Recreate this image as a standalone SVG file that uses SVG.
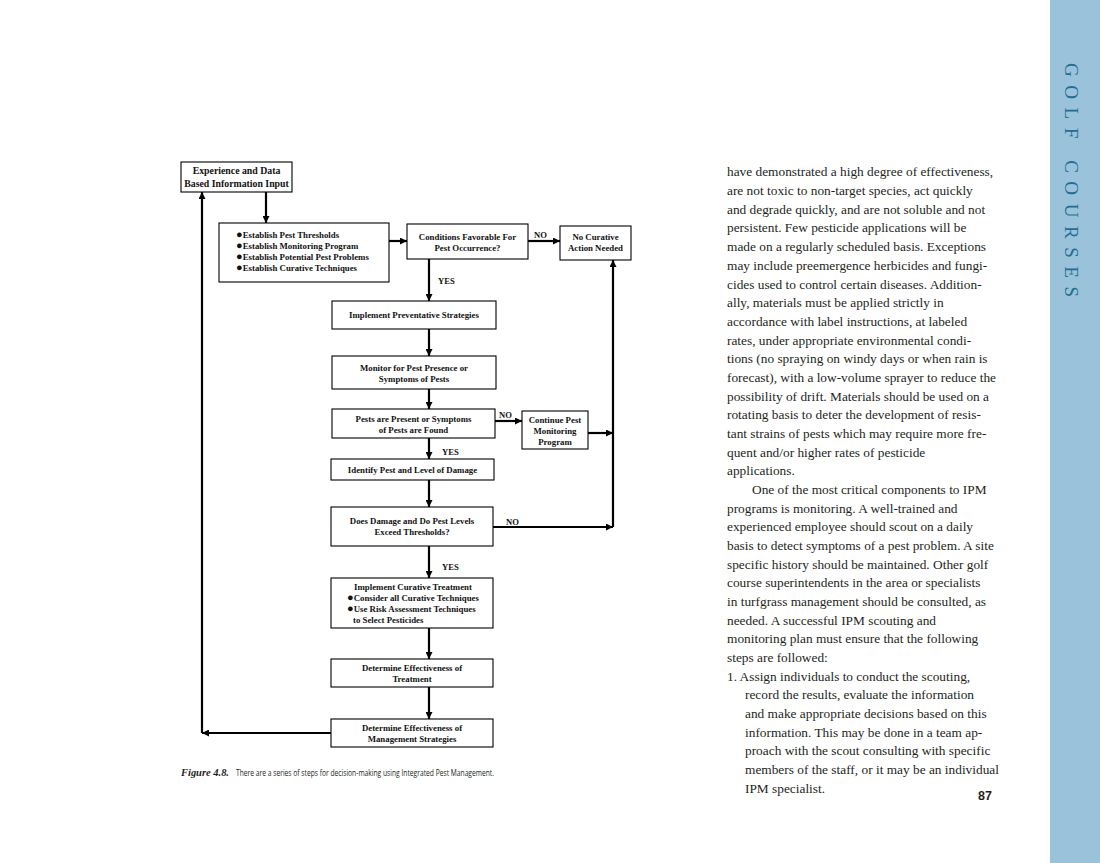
<svg xmlns="http://www.w3.org/2000/svg" width="1100" height="863" viewBox="0 0 1100 863">
<defs>
<marker id="ah" viewBox="0 0 8 8" markerUnits="userSpaceOnUse" markerWidth="7" markerHeight="7" refX="8" refY="4" orient="auto">
<path d="M0,0 L8,4 L0,8 z" fill="#000"/>
</marker>
</defs>
<style>
.box{fill:#fff;stroke:#000;stroke-width:1.1}
.t{font-family:"Liberation Serif","DejaVu Serif",serif;font-weight:bold;font-size:8.8px;fill:#111;text-anchor:middle}
.tl{text-anchor:start}
.big{font-size:9.8px}
.b{font-size:11px}
.lbl{font-family:"Liberation Serif","DejaVu Serif",serif;font-weight:bold;font-size:8.6px;fill:#111}
.c{stroke:#000;stroke-width:2.2;fill:none;marker-end:url(#ah)}
.body{font-family:"Liberation Serif","DejaVu Serif",serif;font-size:13.35px;fill:#231f20}
</style>
<rect width="1100" height="863" fill="#fff"/>
<rect x="1050" y="0" width="50" height="863" fill="#9ac3db"/>
<text transform="translate(1065,63) rotate(90)" font-family="Liberation Serif,DejaVu Serif,serif" font-size="19" fill="#1f6f93" textLength="234" lengthAdjust="spacing">GOLF COURSES</text>

<g id="connectors">
<line class="c" x1="266" y1="192" x2="266" y2="223"/>
<line class="c" x1="389" y1="241" x2="407" y2="241"/>
<line class="c" x1="528" y1="241" x2="560" y2="241"/>
<line class="c" x1="429" y1="259" x2="429" y2="301"/>
<line class="c" x1="429" y1="329" x2="429" y2="356"/>
<line class="c" x1="429" y1="389" x2="429" y2="409"/>
<line class="c" x1="495" y1="421" x2="522" y2="421"/>
<line class="c" x1="588" y1="433" x2="613" y2="433"/>
<line class="c" x1="429" y1="438" x2="429" y2="459"/>
<line class="c" x1="429" y1="480" x2="429" y2="507"/>
<line class="c" x1="493" y1="527" x2="613" y2="527"/>
<line class="c" x1="613" y1="527" x2="613" y2="260"/>
<line class="c" x1="429" y1="546" x2="429" y2="578"/>
<line class="c" x1="429" y1="628" x2="429" y2="659"/>
<line class="c" x1="429" y1="687" x2="429" y2="719"/>
<line class="c" x1="331" y1="733" x2="202" y2="733"/>
<line class="c" x1="202" y1="733" x2="202" y2="192"/>
<text class="lbl" x="534" y="238">NO</text>
<text class="lbl" x="438" y="284">YES</text>
<text class="lbl" x="499" y="418">NO</text>
<text class="lbl" x="442" y="455">YES</text>
<text class="lbl" x="506" y="525">NO</text>
<text class="lbl" x="442" y="570">YES</text>
</g>

<g id="n1">
<rect class="box" x="181" y="162" width="111" height="30"/>
<text class="t big" x="236.5" y="173.5">Experience and Data</text>
<text class="t big" x="236.5" y="186.5">Based Information Input</text>
</g>
<g id="n2">
<rect class="box" x="219" y="223" width="170" height="59"/>
<text class="t tl" x="236" y="238"><tspan class="b">●</tspan>Establish Pest Thresholds</text>
<text class="t tl" x="236" y="249"><tspan class="b">●</tspan>Establish Monitoring Program</text>
<text class="t tl" x="236" y="260"><tspan class="b">●</tspan>Establish Potential Pest Problems</text>
<text class="t tl" x="236" y="270.5"><tspan class="b">●</tspan>Establish Curative Techniques</text>
</g>
<g id="n3">
<rect class="box" x="407" y="224" width="121" height="35"/>
<text class="t" x="467.5" y="240">Conditions Favorable For</text>
<text class="t" x="467.5" y="251">Pest Occurrence?</text>
</g>
<g id="n4">
<rect class="box" x="560" y="226" width="71" height="34"/>
<text class="t" x="595.5" y="240">No Curative</text>
<text class="t" x="595.5" y="251">Action Needed</text>
</g>
<g id="n5">
<rect class="box" x="332" y="301" width="164" height="28"/>
<text class="t" x="414" y="318">Implement Preventative Strategies</text>
</g>
<g id="n6">
<rect class="box" x="332" y="356" width="164" height="33"/>
<text class="t" x="414" y="371">Monitor for Pest Presence or</text>
<text class="t" x="414" y="382">Symptoms of Pests</text>
</g>
<g id="n7">
<rect class="box" x="332" y="409" width="163" height="29"/>
<text class="t" x="413.5" y="422">Pests are Present or Symptoms</text>
<text class="t" x="413.5" y="433">of Pests are Found</text>
</g>
<g id="n8">
<rect class="box" x="522" y="411" width="66" height="38"/>
<text class="t" x="555" y="423">Continue Pest</text>
<text class="t" x="555" y="434">Monitoring</text>
<text class="t" x="555" y="445">Program</text>
</g>
<g id="n9">
<rect class="box" x="331" y="459" width="163" height="21"/>
<text class="t" x="412.5" y="473">Identify Pest and Level of Damage</text>
</g>
<g id="n10">
<rect class="box" x="331" y="507" width="162" height="39"/>
<text class="t" x="412" y="524">Does Damage and Do Pest Levels</text>
<text class="t" x="412" y="535">Exceed Thresholds?</text>
</g>
<g id="n11">
<rect class="box" x="331" y="578" width="162" height="50"/>
<text class="t" x="413" y="590">Implement Curative Treatment</text>
<text class="t tl" x="347" y="601"><tspan class="b">●</tspan>Consider all Curative Techniques</text>
<text class="t tl" x="347" y="612"><tspan class="b">●</tspan>Use Risk Assessment Techniques</text>
<text class="t tl" x="353" y="623">to Select Pesticides</text>
</g>
<g id="n12">
<rect class="box" x="331" y="659" width="162" height="28"/>
<text class="t" x="412" y="671">Determine Effectiveness of</text>
<text class="t" x="412" y="682">Treatment</text>
</g>
<g id="n13">
<rect class="box" x="331" y="719" width="162" height="28"/>
<text class="t" x="412" y="731">Determine Effectiveness of</text>
<text class="t" x="412" y="742">Management Strategies</text>
</g>

<g id="caption">
<text x="181" y="776" font-family="Liberation Serif,DejaVu Serif,serif" font-style="italic" font-weight="bold" font-size="9.5" fill="#231f20" textLength="48" lengthAdjust="spacingAndGlyphs">Figure 4.8.</text>
<text x="236" y="776" font-family="Open Sans,Noto Sans,sans-serif" font-size="8.3" fill="#231f20" textLength="258" lengthAdjust="spacingAndGlyphs">There are a series of steps for decision-making using Integrated Pest Management.</text>
</g>

<g id="bodytext" class="body">
<text x="727" y="176">have demonstrated a high degree of effectiveness,</text>
<text x="727" y="195">are not toxic to non-target species, act quickly</text>
<text x="727" y="214">and degrade quickly, and are not soluble and not</text>
<text x="727" y="232">persistent. Few pesticide applications will be</text>
<text x="727" y="251">made on a regularly scheduled basis. Exceptions</text>
<text x="727" y="270">may include preemergence herbicides and fungi-</text>
<text x="727" y="289">cides used to control certain diseases. Addition-</text>
<text x="727" y="307">ally, materials must be applied strictly in</text>
<text x="727" y="326">accordance with label instructions, at labeled</text>
<text x="727" y="345">rates, under appropriate environmental condi-</text>
<text x="727" y="363">tions (no spraying on windy days or when rain is</text>
<text x="727" y="382">forecast), with a low-volume sprayer to reduce the</text>
<text x="727" y="401">possibility of drift. Materials should be used on a</text>
<text x="727" y="419">rotating basis to deter the development of resis-</text>
<text x="727" y="438">tant strains of pests which may require more fre-</text>
<text x="727" y="457">quent and/or higher rates of pesticide</text>
<text x="727" y="475">applications.</text>
<text x="752" y="494">One of the most critical components to IPM</text>
<text x="727" y="513">programs is monitoring. A well-trained and</text>
<text x="727" y="531">experienced employee should scout on a daily</text>
<text x="727" y="550">basis to detect symptoms of a pest problem. A site</text>
<text x="727" y="569">specific history should be maintained. Other golf</text>
<text x="727" y="587">course superintendents in the area or specialists</text>
<text x="727" y="606">in turfgrass management should be consulted, as</text>
<text x="727" y="625">needed. A successful IPM scouting and</text>
<text x="727" y="643">monitoring plan must ensure that the following</text>
<text x="727" y="662">steps are followed:</text>
<text x="727" y="681">1. Assign individuals to conduct the scouting,</text>
<text x="745" y="699">record the results, evaluate the information</text>
<text x="745" y="718">and make appropriate decisions based on this</text>
<text x="745" y="737">information. This may be done in a team ap-</text>
<text x="745" y="755">proach with the scout consulting with specific</text>
<text x="745" y="774">members of the staff, or it may be an individual</text>
<text x="745" y="793">IPM specialist.</text>
</g>
<text x="978" y="800" font-family="Liberation Sans,Arial,sans-serif" font-weight="bold" font-size="12.5" fill="#231f20">87</text>
</svg>
